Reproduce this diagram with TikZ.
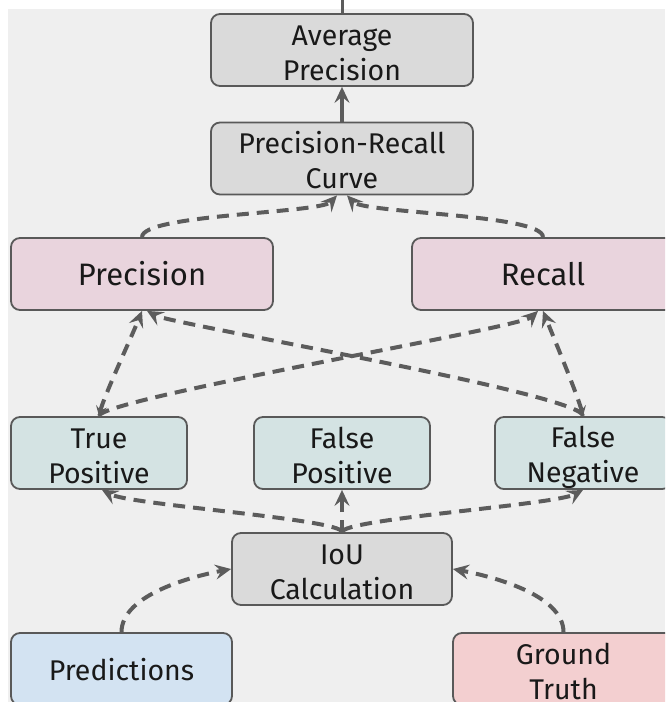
\documentclass[tikz,border=0pt]{standalone}
\usepackage{fontspec}
\setmainfont{Fira Sans}
\usetikzlibrary{positioning,arrows.meta}

\definecolor{bgGray}{HTML}{EFEFEF}
\definecolor{edgeGray}{HTML}{595959}
\definecolor{flowGray}{HTML}{5C5C5C}
\definecolor{calcFill}{HTML}{DADADA}
\definecolor{metricFill}{HTML}{E9D4DD}
\definecolor{countFill}{HTML}{D4E3E3}
\definecolor{predFill}{HTML}{D3E3F2}
\definecolor{truthFill}{HTML}{F3CFD0}

% struts so that the text sits like in the boxes of the original
\newcommand\botstrut{\rule[-6pt]{0pt}{6pt}}
\newcommand\twoline[2]{\rule{0pt}{31pt}#1\\#2\botstrut}
\newcommand\oneline[1]{\rule{0pt}{28pt}#1\botstrut}

\tikzset{
  box/.style={draw=edgeGray, line width=1.8pt, rounded corners=9pt,
    minimum height=72pt, inner ysep=0pt, align=center, text=black!90,
    font=\fontsize{28.5}{35}\selectfont},
  calc/.style={box, fill=calcFill, minimum width=262pt},
  metric/.style={box, fill=metricFill, minimum width=262pt,
    font=\fontsize{31}{36}\selectfont},
  count/.style={box, fill=countFill, minimum width=176pt},
  source/.style={box, minimum width=221pt},
  flow/.style={draw=flowGray, line width=4pt, dash pattern=on 12pt off 8pt,
    -{Stealth[length=16pt,width=15pt,inset=6pt]}},
  both flow/.style={flow,
    {Stealth[length=10pt,width=11pt,inset=4pt]}-{Stealth[length=16pt,width=15pt,inset=6pt]}}
}

\begin{document}
\begin{tikzpicture}[x=1pt,y=1pt,on grid]
  \useasboundingbox (0,0) rectangle (665,-702);
  \clip (0,0) rectangle (665,-702);
  \fill[white] (0,0) rectangle (665,-702);
  \fill[bgGray] (8,-9) rectangle (665,-702);

  % nodes, top to bottom
  \node[calc] (avg_p) at (342,-50) {\twoline{Average}{Precision}};
  \node[calc] (pr_c) [below=108.5pt of avg_p] {\twoline{Precision-Recall}{Curve}};
  \node[metric] (prec) [below left=115.5pt and 200pt of pr_c] {\oneline{Precision}};
  \node[metric] (rec) [below right=115.5pt and 201pt of pr_c] {\oneline{Recall}};
  \node[count] (fp) [below=294.5pt of pr_c] {\twoline{False}{Positive}};
  \node[count] (tp) [left=243pt of fp] {\twoline{True}{Positive}};
  \node[count] (fn) [right=241pt of fp] {\twoline{False}{Negative}};
  \node[calc, minimum width=220pt] (iou) [below=116pt of fp] {\twoline{IoU}{Calculation}};
  \node[source, fill=predFill] (pred) [below left=100pt and 220.5pt of iou] {\oneline{Predictions}};
  \node[source, fill=truthFill] (gt) [below right=100pt and 221.5pt of iou] {\twoline{Ground}{Truth}};
  \coordinate (top_in) at (342,0);

  % solid links
  \draw[draw=flowGray, line width=3pt] (avg_p.north) -- (top_in);
  \draw[flow, solid] (pr_c.north) -- (avg_p.south);

  % metrics to curve
  \draw[flow] (prec.north) .. controls +(0,23) and +(-17,-18) .. ([xshift=-5pt]pr_c.south);
  \draw[flow] (rec.north) .. controls +(0,23) and +(17,-18) .. ([xshift=5pt]pr_c.south);

  % counts to metrics
  \draw[both flow] (tp.north) .. controls +(5,20) and +(-10,-25) .. (prec.south);
  \draw[flow] (fn.north) .. controls +(0,22) and +(23,-13) .. ([xshift=5pt]prec.south);
  \draw[flow] (tp.north) .. controls +(0,17) and +(-18,-17) .. ([xshift=-5pt]rec.south);
  \draw[both flow] (fn.north) .. controls +(-5,20) and +(10,-25) .. (rec.south);

  % iou to counts
  \draw[flow] (iou.north) .. controls +(0,13) and +(28,-15) .. ([xshift=3pt]tp.south);
  \draw[flow] (iou.north) -- (fp.south);
  \draw[flow] (iou.north) .. controls +(0,13) and +(-28,-15) .. (fn.south);

  % inputs to iou
  \draw[flow] (pred.north) .. controls +(0,38) and +(-37,-7) .. (iou.west);
  \draw[flow] (gt.north) .. controls +(0,38) and +(37,-7) .. (iou.east);
\end{tikzpicture}
\end{document}
